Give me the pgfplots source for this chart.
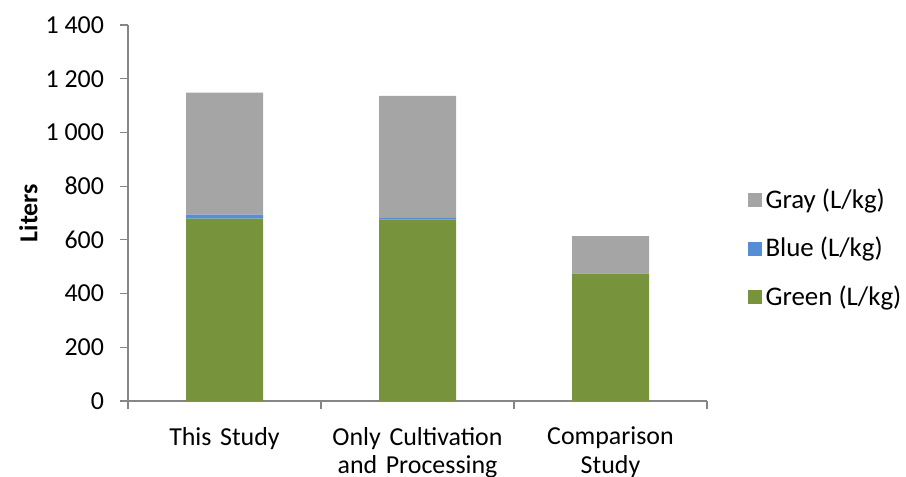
\documentclass[border=0pt]{standalone}
\usepackage{pgfplots}
\pgfplotsset{compat=1.18}
\usepackage{fontspec}
\setmainfont{Carlito}
\definecolor{cgray}{HTML}{A5A5A5}
\definecolor{cblue}{HTML}{558ED5}
\definecolor{cgreen}{HTML}{77933C}
\definecolor{caxis}{HTML}{868686}
\begin{document}
\begin{tikzpicture}
\path[use as bounding box] (-64bp,-38bp) rectangle (389bp,200.5bp);
\begin{axis}[
  scale only axis,
  width=289.5bp, height=188bp,
  ybar stacked, bar width=38.5bp,
  xmin=-0.5, xmax=2.5,
  ymin=0, ymax=1400,
  ytick={0,200,...,1400},
  xtick={-0.5,0.5,1.5,2.5},
  xticklabels={},
  extra x ticks={0,1,2},
  extra x tick labels={This Study,{Only Cultivation\\and Processing},{Comparison\\Study}},
  extra x tick style={major tick length=0pt,
    xticklabel style={align=center, text width=110bp, yshift=-9.5bp, font=\fontsize{13}{14.5}\selectfont}},
  yticklabel style={font=\fontsize{13}{15}\selectfont, xshift=-4.5bp},
  tick style={draw=caxis, line width=0.6pt},
  major tick length=4bp,
  tick align=outside,
  axis x line*=bottom,
  axis y line*=left,
  axis line style={draw=caxis, line width=0.6pt},
  /pgf/number format/assume math mode=true,
  /pgf/number format/1000 sep={\ },
  ylabel={\textbf{Liters}},
  every axis y label/.style={at={(axis description cs:-0.172,0.5)}, rotate=90, anchor=center, font=\fontsize{13}{15}\selectfont},
  reverse legend,
  legend style={draw=none, fill=none, at={(rel axis cs:1.059,0.587)}, anchor=north west,
    font=\fontsize{13.5}{15}\selectfont, row sep=9bp,
    /tikz/every even column/.append style={column sep=4.5bp}},
  legend cell align=left,
  legend image code/.code={\fill[#1,draw=none] (0bp,-3.5bp) rectangle (7bp,3.5bp);},
]
\addplot[fill=cgreen, draw=none] coordinates {(0,679) (1,676) (2,474)};
\addlegendentry{Green (L/kg)}
\addplot[fill=cblue, draw=none] coordinates {(0,15) (1,8) (2,0)};
\addlegendentry{Blue (L/kg)}
\addplot[fill=cgray, draw=none] coordinates {(0,454) (1,452) (2,140)};
\addlegendentry{Gray (L/kg)}
\end{axis}
\end{tikzpicture}
\end{document}
